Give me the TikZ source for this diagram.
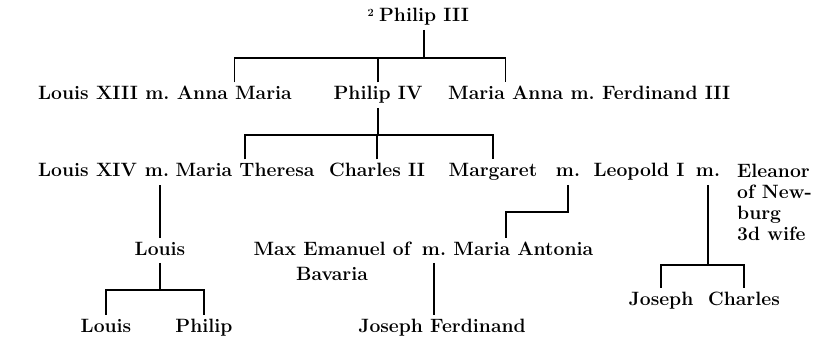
\documentclass[tikz,border=0pt]{standalone}
\usepackage{fontspec}
\usetikzlibrary{positioning}

\begin{document}
\begin{tikzpicture}[
    x=1pt, y=-1pt,
    node distance=7pt,
    person/.style={inner xsep=0pt, inner ysep=4pt, text height=13.3pt, text depth=3.7pt, font=\fontsize{19.3}{20.5}\selectfont\bfseries},
    group/.style={inner sep=0pt, align=left, font=\fontsize{19.3}{21}\selectfont\bfseries},
    link/.style={line width=1.3pt}
]
\useasboundingbox (0,0) rectangle (813,339);

\node[person, anchor=base, label={[font=\fontsize{11}{11}\selectfont\bfseries, inner sep=0pt, label distance=5pt, yshift=4pt]left:2}] (p3) at (424,22) {Philip III};

\node[person, anchor=base west] (louisxiii) at (38,100) {Louis XIII};
\node[person, base right=of louisxiii] (m1) {m.};
\node[person, base right=of m1] (annamaria) {Anna Maria};
\node[person, anchor=base] (philipiv) at (378,100) {Philip IV};
\node[person, anchor=base west] (mariaanna) at (448,100) {Maria Anna};
\node[person, base right=of mariaanna] (m6) {m.};
\node[person, base right=of m6] (ferdinandiii) {Ferdinand III};

\node[person, anchor=base west] (louisxiv) at (38,177) {Louis XIV};
\node[person, anchor=base] (m2) at (157,177) {m.};
\node[person, anchor=base] (mariatheresa) at (245,177) {Maria Theresa};
\node[person, anchor=base] (charlesii) at (377,177) {Charles II};
\node[person, anchor=base] (margaret) at (493,177) {Margaret};
\node[person, anchor=base] (m3) at (568,177) {m.};
\node[person, anchor=base] (leopoldi) at (639,177) {Leopold I};
\node[person, anchor=base] (m4) at (708,177) {m.};
\node[group, anchor=north west] (eleanor) at (737,163.7) {Eleanor\\of New-\\burg\\3d wife};

\node[person, anchor=base] (louis) at (160,255) {Louis};
\node[group, align=center, anchor=north] (maxemanuel) at (332,241.7) {Max Emanuel of\\[4pt]Bavaria};
\node[person, anchor=base] (m5) at (434,255) {m.};
\node[person, base right=of m5] (mariaantonia) {Maria Antonia};

\node[person, anchor=base] (joseph) at (661,305) {Joseph};
\node[person, anchor=base] (charles) at (744,305) {Charles};
\node[person, anchor=base] (louisjr) at (106,332) {Louis};
\node[person, anchor=base] (philip) at (204,332) {Philip};
\node[person, anchor=base] (josephferdinand) at (442,332) {Joseph Ferdinand};

\coordinate (bar1) at (424,58);
\coordinate (bar2) at (376,135);
\coordinate (bend) at (506,212);
\coordinate (bar4) at (160,290);
\coordinate (bar5) at (706,265);

\draw[link] (p3.south) -- (p3.south |- bar1);
\draw[link] (annamaria.north) |- (bar1) -| (mariaanna.north);
\draw[link] (philipiv.north) -- (philipiv.north |- bar1);
\draw[link] (philipiv.south) -- (philipiv.south |- bar2);
\draw[link] (mariatheresa.north) |- (bar2) -| (margaret.north);
\draw[link] (charlesii.north) -- (charlesii.north |- bar2);
\draw[link] (louis.north) -- (louis.north |- m2.south);
\draw[link] (louis.south) -- (louis.south |- bar4);
\draw[link] (louisjr.north) |- (bar4) -| (philip.north);
\draw[link] (m3.south) |- (bend) -- (bend |- mariaantonia.north);
\draw[link] (m5.south) -- (m5.south |- josephferdinand.north);
\draw[link] (m4.south) -- (m4.south |- bar5);
\draw[link] (joseph.north) |- (bar5) -| (charles.north);
\end{tikzpicture}
\end{document}
